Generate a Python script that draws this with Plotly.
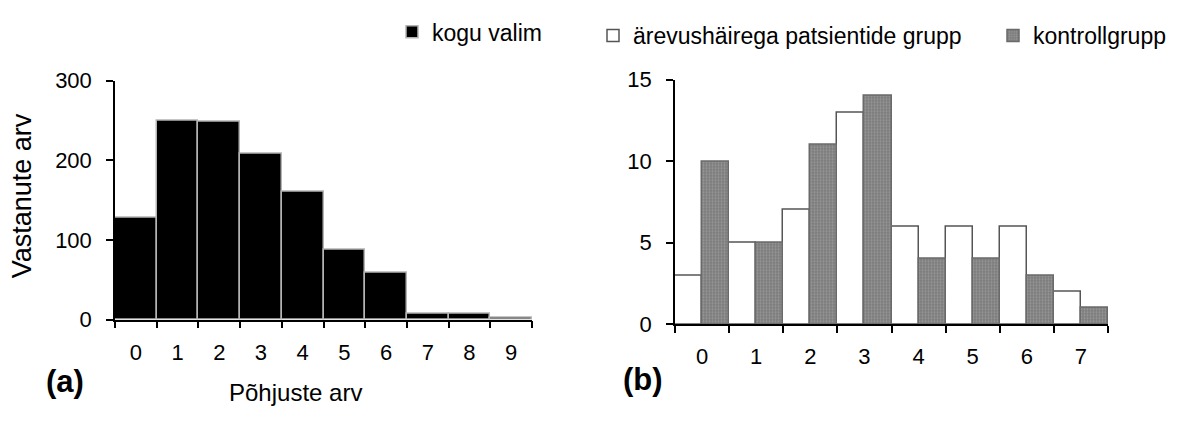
import plotly.graph_objects as go

W, H = 1179, 421

# ---- data ----
cats_a = ["0", "1", "2", "3", "4", "5", "6", "7", "8", "9"]
kogu_valim = [128, 250, 248, 208, 160, 88, 59, 8, 8, 2]

cats_b = ["0", "1", "2", "3", "4", "5", "6", "7"]
patsiendid = [3, 5, 7, 13, 6, 6, 6, 2]
kontroll = [10, 5, 11, 14, 4, 4, 3, 1]

name_a = "kogu valim"
name_p = "ärevushäirega patsientide grupp"
name_k = "kontrollgrupp"

FONT = "Liberation Sans, Arial, sans-serif"

def px_x(p):
    return p / W

def px_y(p):
    return 1 - p / H

fig = go.Figure()

fig.add_trace(go.Bar(
    x=cats_a, y=kogu_valim, name=name_a, showlegend=True,
    marker=dict(color="black", line=dict(color="#b4b4b4", width=1.5)),
    xaxis="x", yaxis="y", legend="legend",
))
fig.add_trace(go.Bar(
    x=cats_b, y=patsiendid, name=name_p, showlegend=True,
    marker=dict(color="white", line=dict(color="#555555", width=1.5)),
    xaxis="x2", yaxis="y2", legend="legend2",
))
fig.add_trace(go.Bar(
    x=cats_b, y=kontroll, name=name_k, showlegend=True,
    marker=dict(color="#7c7c7c", line=dict(color="#6a6a6a", width=1.5),
                pattern=dict(shape=".", fgcolor="#b8b8b8", bgcolor="#7c7c7c",
                             size=3, solidity=0.35, fillmode="overlay")),
    xaxis="x2", yaxis="y2", legend="legend3",
))

axis_common = dict(
    showline=True, linecolor="black", linewidth=1.5,
    ticks="outside", ticklen=7, tickwidth=1.5, tickcolor="black",
    showgrid=False, zeroline=False,
    tickfont=dict(family=FONT, size=22, color="black"),
)

leg_common = dict(xanchor="left", yanchor="middle", orientation="h",
                  font=dict(family=FONT, size=23, color="black"),
                  bgcolor="rgba(0,0,0,0)", itemwidth=30)

fig.update_layout(
    width=W, height=H,
    margin=dict(l=0, r=0, t=0, b=0),
    paper_bgcolor="white", plot_bgcolor="white",
    showlegend=True,
    barmode="group", bargap=0, bargroupgap=0,
    font=dict(family=FONT, color="black"),
    xaxis=dict(axis_common, type="category", tickson="boundaries",
               ticklabelstandoff=12,
               domain=[px_x(115), px_x(532)], anchor="y"),
    yaxis=dict(axis_common, range=[0, 300], tickvals=[0, 100, 200, 300],
               ticklabelstandoff=10,
               domain=[px_y(327), px_y(73)], anchor="x"),
    xaxis2=dict(axis_common, type="category", tickson="boundaries",
                ticklabelstandoff=12,
                domain=[px_x(675), px_x(1108)], anchor="y2"),
    yaxis2=dict(axis_common, range=[0, 15], tickvals=[0, 5, 10, 15],
                ticklabelstandoff=10,
                domain=[px_y(332), px_y(72)], anchor="x2"),
    legend=dict(leg_common, x=px_x(434 - 42), y=px_y(21)),
    legend2=dict(leg_common, x=px_x(635 - 42), y=px_y(25)),
    legend3=dict(leg_common, x=px_x(1035 - 42), y=px_y(25)),
    annotations=[
        dict(text="Vastanute arv", x=px_x(22), y=px_y(196), xref="paper", yref="paper",
             textangle=-90, showarrow=False, font=dict(family=FONT, size=27),
             xanchor="center", yanchor="middle"),
        dict(text="Põhjuste arv", x=px_x(295), y=px_y(405), xref="paper", yref="paper",
             showarrow=False, font=dict(family=FONT, size=24),
             xanchor="center", yanchor="middle"),
        dict(text="<b>(a)</b>", x=px_x(65), y=px_y(393), xref="paper", yref="paper",
             showarrow=False, font=dict(family=FONT, size=31),
             xanchor="center", yanchor="middle"),
        dict(text="<b>(b)</b>", x=px_x(643), y=px_y(391), xref="paper", yref="paper",
             showarrow=False, font=dict(family=FONT, size=31),
             xanchor="center", yanchor="middle"),
    ],
)

fig.write_html("out.html")
